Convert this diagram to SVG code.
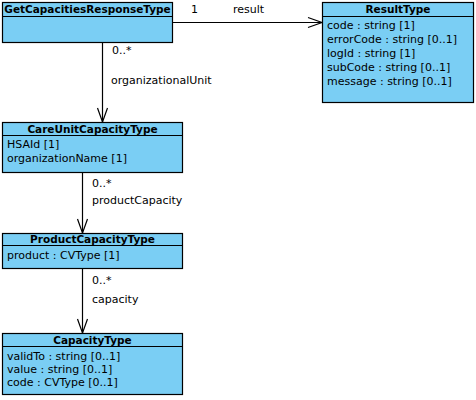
<svg xmlns="http://www.w3.org/2000/svg" width="476" height="400" viewBox="0 0 476 400">
<defs>
<style>
.box{fill:#7ACEF4;stroke:#000;stroke-width:1.2}
.sep{stroke:#000;stroke-width:1.2}
.h{font-family:"DejaVu Sans",Verdana,sans-serif;font-size:10.5px;font-weight:bold;text-anchor:middle;fill:#000}
.t{font-family:"DejaVu Sans",Verdana,sans-serif;font-size:11px;fill:#000}
.c{stroke:#000;stroke-width:1.2;fill:none}
</style>
</defs>
<rect width="476" height="400" fill="#fff"/>
<g id="connectors">
<line class="c" x1="172" y1="22.5" x2="322" y2="22.5"/>
<polyline class="c" points="308,17.5 322,22.5 308,27.5"/>
<text class="t" x="191" y="13">1</text>
<text class="t" x="233" y="13">result</text>
<line class="c" x1="102.5" y1="42" x2="102.5" y2="122"/>
<polyline class="c" points="97.5,108 102.5,122 107.5,108"/>
<text class="t" x="112" y="54">0..*</text>
<text class="t" x="111" y="84">organizationalUnit</text>
<line class="c" x1="82.5" y1="172" x2="82.5" y2="233"/>
<polyline class="c" points="77.5,219 82.5,233 87.5,219"/>
<text class="t" x="92" y="187">0..*</text>
<text class="t" x="92" y="204">productCapacity</text>
<line class="c" x1="82.5" y1="268" x2="82.5" y2="333"/>
<polyline class="c" points="77.5,319 82.5,333 87.5,319"/>
<text class="t" x="92" y="284">0..*</text>
<text class="t" x="92" y="303">capacity</text>
</g>
<g id="GetCapacitiesResponseType">
<rect class="box" x="2.5" y="2.5" width="170" height="40"/>
<line class="sep" x1="2.5" y1="16.5" x2="172.5" y2="16.5"/>
<text class="h" x="87.5" y="13">GetCapacitiesResponseType</text>
</g>
<g id="ResultType">
<rect class="box" x="322.5" y="2.5" width="151" height="100"/>
<line class="sep" x1="322.5" y1="16.5" x2="473.5" y2="16.5"/>
<text class="h" x="398" y="13">ResultType</text>
<text class="t" x="327" y="29">code : string [1]</text>
<text class="t" x="327" y="43">errorCode : string [0..1]</text>
<text class="t" x="327" y="57">logId : string [1]</text>
<text class="t" x="327" y="71">subCode : string [0..1]</text>
<text class="t" x="327" y="85">message : string [0..1]</text>
</g>
<g id="CareUnitCapacityType">
<rect class="box" x="2.5" y="122.5" width="180" height="50"/>
<line class="sep" x1="2.5" y1="135.5" x2="182.5" y2="135.5"/>
<text class="h" x="92.5" y="133">CareUnitCapacityType</text>
<text class="t" x="7" y="148">HSAId [1]</text>
<text class="t" x="7" y="162">organizationName [1]</text>
</g>
<g id="ProductCapacityType">
<rect class="box" x="2.5" y="233.5" width="180" height="35"/>
<line class="sep" x1="2.5" y1="245.5" x2="182.5" y2="245.5"/>
<text class="h" x="92.5" y="243">ProductCapacityType</text>
<text class="t" x="7" y="259">product : CVType [1]</text>
</g>
<g id="CapacityType">
<rect class="box" x="2.5" y="333.5" width="180" height="61"/>
<line class="sep" x1="2.5" y1="346.5" x2="182.5" y2="346.5"/>
<text class="h" x="92.5" y="344">CapacityType</text>
<text class="t" x="7" y="360">validTo : string [0..1]</text>
<text class="t" x="7" y="373">value : string [0..1]</text>
<text class="t" x="7" y="386">code : CVType [0..1]</text>
</g>
</svg>
